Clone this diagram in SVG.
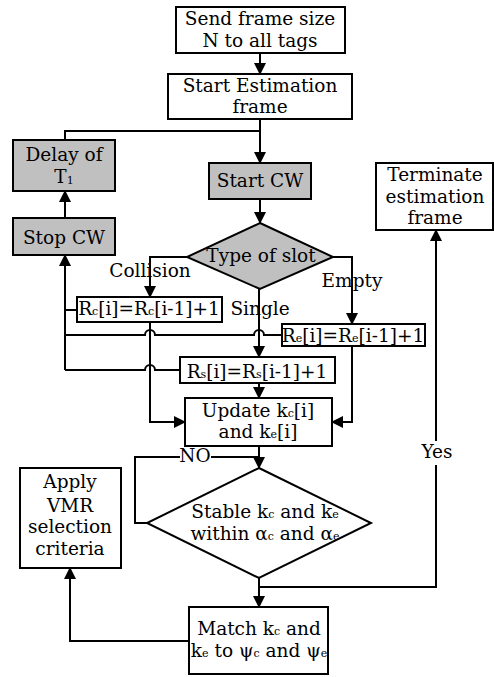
<svg xmlns="http://www.w3.org/2000/svg" width="494" height="677" viewBox="0 0 494 677">
<defs>
<style>
.box{fill:#fff;stroke:#000;stroke-width:2}
.gray{fill:#c0c0c0;stroke:#000;stroke-width:2}
.ln{fill:none;stroke:#000;stroke-width:2}
text{font-family:"DejaVu Serif","Liberation Serif",serif;font-size:18.5px;fill:#000;text-anchor:middle}
.s{font-size:11px}
</style>
<marker id="ah" markerUnits="userSpaceOnUse" markerWidth="12" markerHeight="12" viewBox="0 0 12 12" refX="11" refY="6" orient="auto">
<path d="M0,0 L12,6 L0,12 Z" fill="#000"/>
</marker>
</defs>
<rect width="494" height="677" fill="#fff"/>
<g id="connectors">
<path class="ln" d="M260,53 V74" marker-end="url(#ah)"/>
<path class="ln" d="M260,119 V163" marker-end="url(#ah)"/>
<path class="ln" d="M260,131 H65 V140"/>
<path class="ln" d="M65,218 V191" marker-end="url(#ah)"/>
<path class="ln" d="M260,199 V223" marker-end="url(#ah)"/>
<path class="ln" d="M187,257 H150 V297" marker-end="url(#ah)"/>
<path class="ln" d="M333,257 H352 V324" marker-end="url(#ah)"/>
<path class="ln" d="M259,289 V357" marker-end="url(#ah)"/>
<path class="ln" d="M77,310 H65"/>
<path class="ln" d="M65,370 V255" marker-end="url(#ah)"/>
<path class="ln" d="M282,335 H264 A5,5 0 0 0 254,335 H155 A5,5 0 0 0 145,335 H65"/>
<path class="ln" d="M180,370 H155 A5,5 0 0 0 145,370 H65"/>
<path class="ln" d="M150,322 V422 H185" marker-end="url(#ah)"/>
<path class="ln" d="M352,346 V422 H332" marker-end="url(#ah)"/>
<path class="ln" d="M259,383 V398" marker-end="url(#ah)"/>
<path class="ln" d="M259,446 V468" marker-end="url(#ah)"/>
<path class="ln" d="M147,523 H135 V457 H259"/>
<path class="ln" d="M259,578 V607" marker-end="url(#ah)"/>
<path class="ln" d="M259,587 H436 V230" marker-end="url(#ah)"/>
<path class="ln" d="M189,641 H70 V568" marker-end="url(#ah)"/>
</g>
<g id="n1"><rect class="box" x="176" y="7" width="169" height="46"/><text x="260" y="25">Send frame size</text><text x="260" y="47">N to all tags</text></g>
<g id="n2"><rect class="box" x="168" y="74" width="184" height="45"/><text x="260" y="92">Start Estimation</text><text x="260" y="113">frame</text></g>
<g id="n3"><rect class="gray" x="13" y="140" width="102" height="51"/><text x="64" y="161">Delay of</text><text x="64" y="183">T<tspan class="s" dy="1">1</tspan></text></g>
<g id="n4"><rect class="gray" x="13" y="218" width="102" height="37"/><text x="64" y="244">Stop CW</text></g>
<g id="n5"><rect class="gray" x="209" y="163" width="102" height="36"/><text x="260" y="187">Start CW</text></g>
<g id="n6"><path class="gray" d="M260,223 L333,257 L260,289 L187,257 Z"/><text x="261" y="262">Type of slot</text></g>
<g id="n7"><rect class="box" x="376" y="163" width="117" height="67"/><text x="435" y="181">Terminate</text><text x="435" y="203">estimation</text><text x="435" y="224">frame</text></g>
<g id="l1"><text x="150" y="277">Collision</text></g>
<g id="l2"><text x="352" y="287">Empty</text></g>
<g id="l3"><text x="260" y="315">Single</text></g>
<g id="n8"><rect class="box" x="77" y="297" width="145" height="25"/><text x="149" y="315">R<tspan class="s">c</tspan>[i]=R<tspan class="s">c</tspan>[i-1]+1</text></g>
<g id="n9"><rect class="box" x="282" y="324" width="143" height="22"/><text x="353" y="342">R<tspan class="s">e</tspan>[i]=R<tspan class="s">e</tspan>[i-1]+1</text></g>
<g id="n10"><rect class="box" x="180" y="357" width="155" height="26"/><text x="257" y="378">R<tspan class="s">s</tspan>[i]=R<tspan class="s">s</tspan>[i-1]+1</text></g>
<g id="n11"><rect class="box" x="185" y="398" width="147" height="48"/><text x="258" y="417">Update k<tspan class="s">c</tspan>[i]</text><text x="258" y="438">and k<tspan class="s">e</tspan>[i]</text></g>
<g id="l4"><rect x="180" y="448" width="31" height="18" fill="#fff"/><text x="195" y="462">NO</text></g>
<g id="l5"><rect x="421" y="441" width="32" height="24" fill="#fff"/><text x="437" y="458">Yes</text></g>
<g id="n12"><path class="box" d="M259,468 L371,523 L259,578 L147,523 Z"/><text x="265" y="518">Stable k<tspan class="s">c</tspan> and k<tspan class="s">e</tspan></text><text x="265" y="540">within α<tspan class="s">c</tspan> and α<tspan class="s">e</tspan></text></g>
<g id="n13"><rect class="box" x="20" y="468" width="101" height="100"/><text x="70" y="488">Apply</text><text x="70" y="512">VMR</text><text x="70" y="533">selection</text><text x="70" y="555">criteria</text></g>
<g id="n14"><rect class="box" x="189" y="607" width="139" height="67"/><text x="259" y="635">Match k<tspan class="s">c</tspan> and</text><text x="259" y="657">k<tspan class="s">e</tspan> to ψ<tspan class="s">c</tspan> and ψ<tspan class="s">e</tspan></text></g>
</svg>
